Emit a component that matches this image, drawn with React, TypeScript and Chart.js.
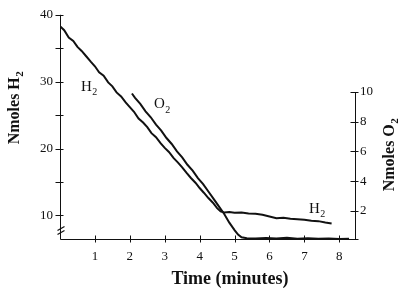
import React, { useEffect, useRef } from "react";
import { Chart, registerables } from "chart.js";
Chart.register(...registerables);

// H2 trace (minutes, nmoles, left axis)
const h2Time = [0.0, 0.12, 0.25, 0.38, 0.5, 0.62, 0.75, 0.88, 1.0, 1.12, 1.25, 1.38, 1.5, 1.62, 1.75, 1.88, 2.0, 2.12, 2.25, 2.38, 2.5, 2.62, 2.75, 2.88, 3.0, 3.12, 3.25, 3.38, 3.5, 3.62, 3.75, 3.88, 4.0, 4.12, 4.25, 4.38, 4.5, 4.6, 4.7, 4.85, 5.0, 5.2, 5.4, 5.6, 5.8, 6.0, 6.2, 6.4, 6.6, 6.8, 7.0, 7.2, 7.4, 7.6, 7.78];
const h2Values = [38.3, 37.7, 36.6, 36.1, 35.2, 34.6, 33.8, 33.0, 32.3, 31.4, 30.9, 29.9, 29.3, 28.4, 27.8, 26.9, 26.2, 25.5, 24.5, 23.9, 23.2, 22.3, 21.7, 20.8, 20.1, 19.5, 18.6, 17.9, 17.2, 16.4, 15.6, 14.9, 14.1, 13.4, 12.6, 11.9, 11.1, 10.6, 10.45, 10.5, 10.4, 10.45, 10.3, 10.25, 10.1, 9.85, 9.6, 9.65, 9.5, 9.45, 9.35, 9.2, 9.15, 8.95, 8.8];

// O2 trace (minutes, nmoles, right axis)
const o2Time = [2.06, 2.15, 2.3, 2.45, 2.6, 2.75, 2.9, 3.05, 3.2, 3.35, 3.5, 3.65, 3.8, 3.95, 4.1, 4.25, 4.4, 4.55, 4.7, 4.85, 5.0, 5.1, 5.2, 5.35, 5.6, 5.9, 6.2, 6.5, 6.8, 7.1, 7.4, 7.7, 8.0, 8.28];
const o2Values = [9.9, 9.6, 9.2, 8.7, 8.3, 7.8, 7.4, 6.9, 6.5, 6.0, 5.6, 5.1, 4.7, 4.2, 3.8, 3.3, 2.8, 2.3, 1.8, 1.2, 0.7, 0.4, 0.22, 0.15, 0.13, 0.16, 0.14, 0.18, 0.12, 0.15, 0.11, 0.13, 0.1, 0.12];

const xTickValues = [1, 2, 3, 4, 5, 6, 7, 8];
const xTickLabels = ["1", "2", "3", "4", "5", "6", "7", "8"];
const leftTickValues = [10, 15, 20, 25, 30, 35, 40];
const leftTickLabels = ["10", "", "20", "", "30", "", "40"];
const rightTickValues = [2, 4, 6, 8, 10];
const rightTickLabels = ["2", "4", "6", "8", "10"];

// in-plot labels: main text, subscript, time, H2-axis value
const noteMain = ["H", "O", "H"];
const noteSub = ["2", "2", "2"];
const noteTime = [0.6, 2.69, 7.13];
const noteValue = [28.6, 26.0, 10.43];

const SERIF = '"Liberation Serif", "Times New Roman", serif';
const INK = "#111";

function subText(ctx: CanvasRenderingContext2D, main: string, sub: string, size: number, subSize: number, weight: string, x: number, y: number, center: boolean) {
  ctx.font = `${weight} ${size}px ${SERIF}`;
  const w1 = ctx.measureText(main).width;
  ctx.font = `${weight} ${subSize}px ${SERIF}`;
  const w2 = ctx.measureText(sub).width;
  const start = center ? x - (w1 + w2) / 2 : x;
  ctx.textAlign = "left";
  ctx.textBaseline = "alphabetic";
  ctx.font = `${weight} ${size}px ${SERIF}`;
  ctx.fillText(main, start, y);
  ctx.font = `${weight} ${subSize}px ${SERIF}`;
  ctx.fillText(sub, start + w1 + 0.5, y + size * 0.28);
}

const decor = {
  id: "decor",
  afterDraw(chart: any) {
    const ctx: CanvasRenderingContext2D = chart.ctx;
    const a = chart.chartArea;
    const xs = chart.scales.x;
    const yl = chart.scales.y;
    const yr = chart.scales.y2;
    const L = Math.round(a.left) + 0.5;
    const R = Math.round(a.right) + 0.5;
    const B = Math.round(a.bottom) + 0.5;
    ctx.save();
    ctx.strokeStyle = INK;
    ctx.lineWidth = 1;
    const seg = (x1: number, y1: number, x2: number, y2: number) => {
      ctx.beginPath();
      ctx.moveTo(x1, y1);
      ctx.lineTo(x2, y2);
      ctx.stroke();
    };
    // axis lines
    seg(L, a.top, L, B);
    seg(L, B, R + 3, B);
    seg(R, Math.round(yr.getPixelForValue(10)) + 0.5, R, B);
    // ticks
    leftTickValues.forEach((v) => {
      const p = Math.round(yl.getPixelForValue(v)) + 0.5;
      seg(L - 5, p, L + 3, p);
    });
    rightTickValues.forEach((v) => {
      const p = Math.round(yr.getPixelForValue(v)) + 0.5;
      seg(R - 5, p, R + 3, p);
    });
    xTickValues.forEach((v) => {
      const p = Math.round(xs.getPixelForValue(v)) + 0.5;
      seg(p, B - 4, p, B + 3);
    });
    // axis break
    ctx.lineWidth = 1.2;
    seg(L - 3, B - 9, L + 4, B - 13);
    seg(L - 3, B - 5, L + 4, B - 9);

    ctx.fillStyle = INK;
    // in-plot labels
    noteMain.forEach((m, i) => {
      subText(ctx, m, noteSub[i], 15, 10, "normal", xs.getPixelForValue(noteTime[i]), yl.getPixelForValue(noteValue[i]), false);
    });
    // axis titles
    subText(ctx, "Time (minutes)", "", 18, 10, "bold", 230, 284, true);
    ctx.save();
    ctx.translate(19, 108);
    ctx.rotate(-Math.PI / 2);
    subText(ctx, "Nmoles H", "2", 16, 11, "bold", 0, 0, true);
    ctx.restore();
    ctx.save();
    ctx.translate(394, 155);
    ctx.rotate(-Math.PI / 2);
    subText(ctx, "Nmoles O", "2", 16, 11, "bold", 0, 0, true);
    ctx.restore();
    ctx.restore();
  },
};

export default function App() {
  const ref = useRef<HTMLCanvasElement | null>(null);
  useEffect(() => {
    if (!ref.current) return;
    const tickFont = { family: SERIF, size: 13 };
    const chart = new Chart(ref.current, {
      type: "line",
      data: {
        datasets: [
          {
            label: "H2",
            data: h2Time.map((t, i) => ({ x: t, y: h2Values[i] })),
            yAxisID: "y",
            borderColor: INK,
            borderWidth: 2,
            pointRadius: 0,
            tension: 0,
          },
          {
            label: "O2",
            data: o2Time.map((t, i) => ({ x: t, y: o2Values[i] })),
            yAxisID: "y2",
            borderColor: INK,
            borderWidth: 2,
            pointRadius: 0,
            tension: 0,
          },
        ],
      },
      options: {
        responsive: false,
        animation: false,
        layout: { padding: { top: 6, left: 0, right: 0, bottom: 0 } },
        plugins: { legend: { display: false }, tooltip: { enabled: false } },
        scales: {
          x: {
            type: "linear",
            min: 0,
            max: 8.45,
            grid: { display: false, drawTicks: false },
            border: { display: false },
            afterBuildTicks: (s: any) => {
              s.ticks = xTickValues.map((v) => ({ value: v }));
            },
            afterFit: (s: any) => {
              s.height = 51;
            },
            ticks: {
              color: INK,
              font: tickFont,
              padding: 10,
              maxRotation: 0,
              autoSkip: false,
              callback: (v: any) => xTickLabels[xTickValues.indexOf(Number(v))] ?? "",
            },
          },
          y: {
            type: "linear",
            position: "left",
            min: 6.48,
            max: 40,
            grid: { display: false, drawTicks: false },
            border: { display: false },
            afterBuildTicks: (s: any) => {
              s.ticks = leftTickValues.map((v) => ({ value: v }));
            },
            afterFit: (s: any) => {
              s.width = 60;
            },
            ticks: {
              color: INK,
              font: tickFont,
              padding: 7,
              autoSkip: false,
              callback: (v: any) => leftTickLabels[leftTickValues.indexOf(Number(v))] ?? "",
            },
          },
          y2: {
            type: "linear",
            position: "right",
            min: 0.1,
            max: 15.2,
            grid: { display: false, drawTicks: false },
            border: { display: false },
            afterBuildTicks: (s: any) => {
              s.ticks = rightTickValues.map((v) => ({ value: v }));
            },
            afterFit: (s: any) => {
              s.width = 45;
            },
            ticks: {
              color: INK,
              font: tickFont,
              padding: 5,
              autoSkip: false,
              callback: (v: any) => rightTickLabels[rightTickValues.indexOf(Number(v))] ?? "",
            },
          },
        },
      },
      plugins: [decor],
    });
    return () => chart.destroy();
  }, []);
  return (
    <div style={{ position: "fixed", left: 0, top: 0, width: 400, height: 290, background: "#fff" }}>
      <canvas ref={ref} width={400} height={290} style={{ width: 400, height: 290, display: "block" }} />
    </div>
  );
}
